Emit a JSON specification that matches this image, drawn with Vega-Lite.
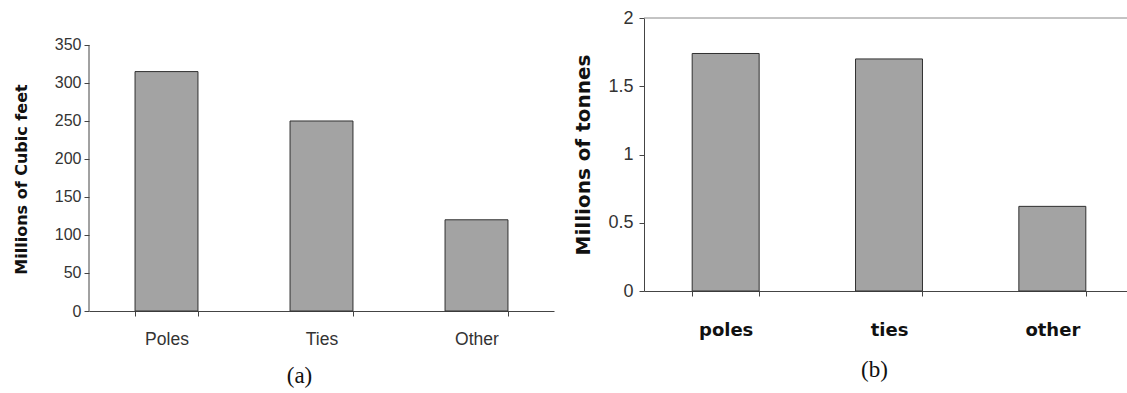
{
  "$schema": "https://vega.github.io/schema/vega-lite/v6.json",
  "background": "white",
  "padding": {"left": 13, "top": 9, "right": 0, "bottom": 0},
  "bounds": "flush",
  "spacing": 90,
  "config": {
    "view": {"stroke": null},
    "font": "Liberation Sans",
    "axis": {"domainColor": "#444", "tickColor": "#444", "labelColor": "#333", "titleColor": "#111", "grid": false, "tickSize": 5}
  },
  "datasets": {
    "wood": [
      {"item": "Poles", "volume": 315},
      {"item": "Ties", "volume": 250},
      {"item": "Other", "volume": 120}
    ],
    "mass": [
      {"item": "poles", "tonnes": 1.74},
      {"item": "ties", "tonnes": 1.70},
      {"item": "other", "tonnes": 0.62}
    ]
  },
  "hconcat": [
    {
      "width": 465,
      "height": 293,
      "resolve": {"scale": {"x": "independent"}},
      "layer": [
        {
          "data": {"name": "wood"},
          "mark": {"type": "bar", "fill": "#a3a3a3", "stroke": "#303030", "strokeWidth": 1},
          "encoding": {
            "x": {
              "field": "item", "type": "nominal", "sort": null,
              "scale": {"paddingInner": 0.594, "paddingOuter": 0.297},
              "axis": {"labelAngle": 0, "labelFontSize": 17.5, "labelPadding": 14, "tickBand": "extent", "title": "(a)", "titleFont": "Liberation Serif", "titleFontSize": 23, "titleFontWeight": "normal", "titlePadding": 17, "titleX": 210}
            },
            "y": {
              "field": "volume", "type": "quantitative",
              "scale": {"domain": [0, 385.5], "nice": false, "zero": true},
              "axis": {"values": [0, 50, 100, 150, 200, 250, 300, 350], "domain": false, "labelFontSize": 16, "labelPadding": 3, "title": "Millions of Cubic feet", "titleFont": "DejaVu Sans", "titleFontSize": 16, "titleFontWeight": "bold", "titleY": 161, "titlePadding": 25}
            }
          }
        },
        {
          "data": {"values": [{}]},
          "mark": {"type": "rule", "color": "#444", "strokeWidth": 1},
          "encoding": {
            "x": {"datum": 0, "type": "quantitative", "scale": {"domain": [0, 1]}, "axis": null},
            "y": {"datum": 0, "type": "quantitative"},
            "y2": {"datum": 350}
          }
        }
      ]
    },
    {
      "width": 490,
      "height": 273,
      "layer": [
        {
          "data": {"values": [{}]},
          "mark": {"type": "rule", "color": "#888", "strokeWidth": 1},
          "encoding": {
            "y": {"datum": 2, "type": "quantitative"}
          }
        },
        {
          "data": {"name": "mass"},
          "mark": {"type": "bar", "fill": "#a3a3a3", "stroke": "#303030", "strokeWidth": 1},
          "encoding": {
            "x": {
              "field": "item", "type": "nominal", "sort": null,
              "scale": {"paddingInner": 0.59, "paddingOuter": 0.295},
              "axis": {"labelAngle": 0, "labelFont": "DejaVu Sans", "labelFontSize": 18, "labelFontWeight": "bold", "labelColor": "#111", "labelPadding": 25, "tickBand": "extent", "title": "(b)", "titleFont": "Liberation Serif", "titleFontSize": 23, "titleFontWeight": "normal", "titlePadding": 19, "titleX": 230}
            },
            "y": {
              "field": "tonnes", "type": "quantitative",
              "scale": {"domain": [0, 2], "nice": false},
              "axis": {"values": [0, 0.5, 1, 1.5, 2], "format": "~g", "labelFontSize": 18, "labelPadding": 6, "title": "Millions of tonnes", "titleFont": "DejaVu Sans", "titleFontSize": 20, "titleFontWeight": "bold", "titlePadding": 14}
            }
          }
        }
      ]
    }
  ]
}
